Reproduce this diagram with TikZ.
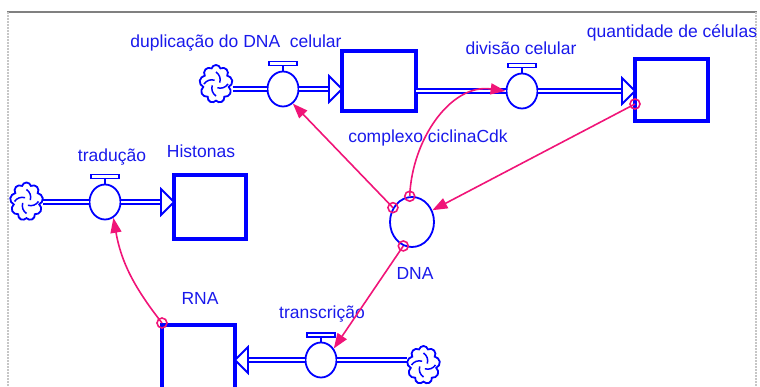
\documentclass[tikz,border=0pt]{standalone}
\usepackage{fontspec}
\setmainfont{Liberation Sans}
\usetikzlibrary{shapes.geometric,shapes.symbols,arrows.meta,calc}
\definecolor{vblue}{RGB}{0,0,255}
\definecolor{tblue}{RGB}{25,25,235}
\definecolor{lpink}{RGB}{240,20,120}
\newcommand\valvebar[1]{%
  \draw[vblue, line width=1.8pt] (#1.north) -- ++(0,-5);
  \draw[vblue, line width=1.8pt] ($(#1.north)+(-14,-5)$) rectangle ($(#1.north)+(14,-9)$);}
\newcommand\flowhead[2]{% tip coordinate, direction (+1 right, -1 left)
  \draw[vblue, fill=white, line width=1.8pt, line join=miter] ($(#1)+(-13*#2,-13)$) -- (#1) -- ($(#1)+(-13*#2,13)$) -- cycle;}
\newcommand\swirl[1]{%
  \foreach \a in {0,90,180,270}
    \draw[vblue, line width=1.5pt] ($(#1.center)+(\a:12)$) to[bend left=35] ($(#1.center)+(\a+70:4)$);}
\begin{document}
\begin{tikzpicture}[x=1pt,y=-1pt,
  stock/.style={draw=vblue, line width=4pt, inner sep=0pt, outer sep=0pt},
  valve/.style={ellipse, draw=vblue, fill=white, line width=1.8pt, minimum width=31pt, minimum height=35pt, inner sep=0pt},
  conv/.style={ellipse, draw=vblue, line width=1.8pt, minimum width=44pt, minimum height=50pt, inner sep=0pt},
  sink/.style={cloud, cloud puffs=9, aspect=0.85, draw=vblue, fill=white, line width=1.8pt, minimum width=33pt, minimum height=38pt, inner sep=0pt},
  pipe/.style={draw=vblue, double=white, double distance=2.2pt, line width=2pt},
  lbl/.style={text=tblue, font=\fontsize{17.5}{20}\selectfont, inner sep=0pt},
  conn/.style={draw=lpink, line width=1.6pt, -{Triangle[length=15pt,width=11pt]}},
  mk/.style={circle, draw=lpink, line width=1.6pt, minimum size=10pt, inner sep=0pt}]
\useasboundingbox (0,0) rectangle (760,387);
\clip (0,0) rectangle (760,387);
% frame
\draw[gray, line width=1.5pt] (7,12) -- (757,12);
\draw[gray!45, line width=2pt, dash pattern=on 2pt off 1pt] (8,12) -- (8,387);
\draw[gray!45, line width=2pt, dash pattern=on 2pt off 1pt] (756,12) -- (756,387);
% stocks
\node[stock, minimum width=74pt, minimum height=60pt] (cc) at (379,81) {};
\node[stock, minimum width=73pt, minimum height=62pt] (q) at (671.5,90) {};
\node[stock, minimum width=72pt, minimum height=64pt] (hist) at (210,207) {};
\node[stock, minimum width=73pt, minimum height=100pt] (rna) at (198.5,375) {};
% converter
\node[conv] (dna) at (412,222) {};
% valves
\node[valve] (v1) at (283,89) {};
\node[valve] (v2) at (522,91) {};
\node[valve] (v3) at (105,202) {};
\node[valve] (v4) at (321,360) {};
% clouds
\node[sink] (c1) at (216,84) {};
\node[sink] (c3) at (26.5,201.5) {};
\node[sink] (c4) at (423.5,365) {};
\swirl{c1}
\swirl{c3}
\swirl{c4}
% flows
\coordinate (t1) at (cc.west |- v1.center);
\draw[pipe] (c1.east |- v1.center) -- (v1.west);
\draw[pipe] (v1.east) -- ($(t1)+(-13,0)$);
\flowhead{t1}{1}
\valvebar{v1}
\coordinate (t2) at (q.west |- v2.center);
\draw[pipe] (cc.east |- v2.center) -- (v2.west);
\draw[pipe] (v2.east) -- ($(t2)+(-13,0)$);
\flowhead{t2}{1}
\valvebar{v2}
\coordinate (t3) at (hist.west |- v3.center);
\draw[pipe] (c3.east |- v3.center) -- (v3.west);
\draw[pipe] (v3.east) -- ($(t3)+(-13,0)$);
\flowhead{t3}{1}
\valvebar{v3}
\coordinate (t4) at (rna.east |- v4.center);
\draw[pipe] (c4.west |- v4.center) -- (v4.east);
\draw[pipe] (v4.west) -- ($(t4)+(13,0)$);
\flowhead{t4}{-1}
\valvebar{v4}
% labels
\node[lbl] (l1) at (236,43) {duplicação do DNA\ \ celular};
\node[lbl] (l2) at (521,48) {divisão celular};
\node[lbl] (l3) at (672,33) {quantidade de células};
\node[lbl] (l4) at (428,138) {complexo ciclinaCdk};
\node[lbl] (l5) at (112,157) {tradução};
\node[lbl] (l6) at (201,151) {Histonas};
\node[lbl] (l7) at (415,273) {DNA};
\node[lbl] (l8) at (200,298) {RNA};
\node[lbl] (l9) at (322,314) {transcrição};
% connectors
\node[mk] (m1) at (dna.143) {};
\draw[conn] (m1.center) -- (v1.-56);
\node[mk] (m2) at (dna.95) {};
\draw[conn] (m2.center) to[out=88, in=172] (v2.west);
\node[mk] (m3) at ([yshift=17pt]q.south west) {};
\draw[conn] (m3.center) -- (dna.30);
\node[mk] (m4) at (dna.-110) {};
\draw[conn] (m4.center) -- (v4.42);
\node[mk] (m5) at ([yshift=2pt]rna.north west) {};
\draw[conn] (m5.center) to[out=128, in=-80] (v3.-62);
\end{tikzpicture}
\end{document}
